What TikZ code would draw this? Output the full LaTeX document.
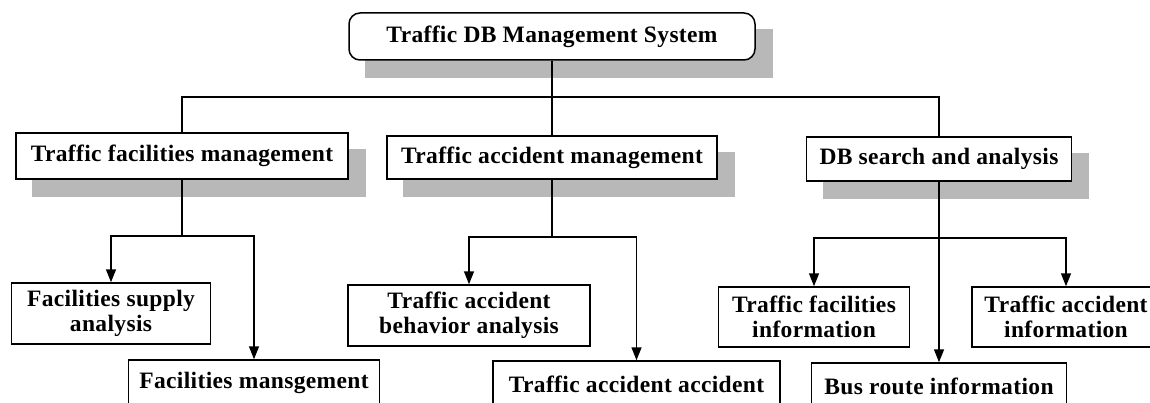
\documentclass[tikz,border=0pt]{standalone}
\usepackage{fontspec}
\setmainfont{Liberation Serif}
\newfontfamily\boxfont[LetterSpace=1.5]{Liberation Serif}
\usetikzlibrary{arrows.meta,backgrounds}
\begin{document}
\begin{tikzpicture}[x=1pt,y=-1pt,
  line width=1.5pt,
  box/.style={draw=black, fill=white, rectangle, inner sep=0pt, align=center,
    font=\boxfont\bfseries\fontsize{23.5}{25}\selectfont},
  shade box/.style={fill=black!28, draw=none},
  arr/.style={-{Triangle[length=13pt,width=10pt]}}]
\useasboundingbox (0,0) rectangle (1150,403);
\clip (0,0) rectangle (1150,403);

% root
\node[box, rounded corners=11pt, minimum width=406pt, minimum height=47pt]
  (top) at (552,36.5) {Traffic DB Management System};

% first level
\node[box, minimum width=332pt, minimum height=46pt]
  (tfm) at (182,156) {Traffic facilities management};
\node[box, minimum width=330pt, minimum height=43pt]
  (tam) at (552,157.5) {Traffic accident management};
\node[box, minimum width=265pt, minimum height=44pt]
  (dbs) at (939,159) {DB search and analysis};

% second level
\node[box, minimum width=199pt, minimum height=61pt]
  (fsa) at (111,313.5) {Facilities supply\\analysis};
\node[box, minimum width=251pt, minimum height=46pt]
  (fm) at (254,383) {Facilities mansgement};
\node[box, minimum width=242pt, minimum height=61pt]
  (tab) at (469,315.5) {Traffic accident\\behavior analysis};
\node[box, minimum width=287pt, minimum height=46pt]
  (taa) at (636.5,384) {Traffic accident accident};
\node[box, minimum width=191pt, minimum height=60pt]
  (tfi) at (814,317) {Traffic facilities\\information};
\node[box, minimum width=188pt, minimum height=60pt]
  (tai) at (1066,317) {Traffic accident\\information};
\node[box, minimum width=255pt, minimum height=46pt]
  (bri) at (939,386) {Bus route information};

% offset shadows behind the root and first-level boxes
\begin{scope}[on background layer]
  \fill[white] (0,0) rectangle (1150,403);
  \foreach \n in {top,tfm,tam,dbs}
    \fill[shade box] ([shift={(17,17)}]\n.south west) rectangle ([shift={(17,17)}]\n.north east);
\end{scope}

% root to first level
\coordinate (hub) at (552,97);
\draw (top.south) -- (tam.north);
\draw (tfm.north) |- (hub) -| (dbs.north);

% facilities branch
\coordinate (b1) at (182,236);
\draw (tfm.south) -- (b1);
\draw[arr] (b1) -| (fsa.north);
\draw[arr] (b1) -| (fm.north);

% accident branch
\coordinate (b2) at (552,237);
\draw (tam.south) -- (b2);
\draw[arr] (b2) -| (tab.north);
\draw[arr] (b2) -| (taa.north);

% search branch
\coordinate (b3) at (939,238);
\draw[arr] (dbs.south) -- (bri.north);
\draw[arr] (b3) -| (tfi.north);
\draw[arr] (b3) -| (tai.north);
\end{tikzpicture}
\end{document}
